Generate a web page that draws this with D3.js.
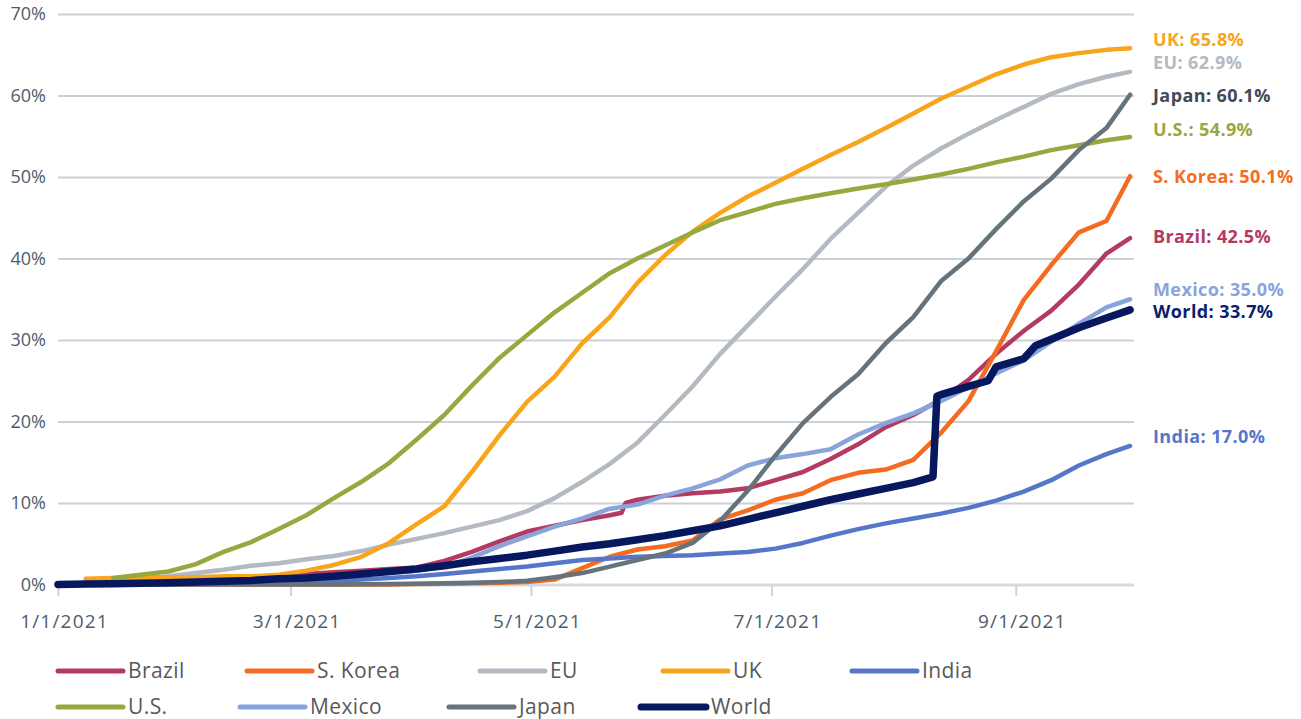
<!DOCTYPE html>
<html>
<head>
<meta charset="utf-8">
<script src="https://cdn.jsdelivr.net/npm/d3@7"></script>
<style>
  html, body { margin: 0; padding: 0; background: #ffffff; }
  svg { display: block; }
</style>
</head>
<body>
<svg id="chart" width="1301" height="719"></svg>
<script>
// Share of population fully vaccinated, 2021 (percent)
const dates = [
  "2021-01-01","2021-01-08","2021-01-15","2021-01-22","2021-01-29","2021-02-05","2021-02-12","2021-02-19",
  "2021-02-26","2021-03-05","2021-03-12","2021-03-19","2021-03-26","2021-04-02","2021-04-09","2021-04-16",
  "2021-04-23","2021-04-30","2021-05-07","2021-05-14","2021-05-21","2021-05-24","2021-05-25","2021-05-28",
  "2021-06-04","2021-06-11","2021-06-18","2021-06-25","2021-07-02","2021-07-09","2021-07-16","2021-07-23",
  "2021-07-30","2021-08-06","2021-08-11","2021-08-12","2021-08-13","2021-08-20","2021-08-25","2021-08-27",
  "2021-09-03","2021-09-06","2021-09-10","2021-09-17","2021-09-24","2021-09-30"
];

const brazil = [null,null,null,0.0,0.1,0.3,0.6,0.9,1.1,1.3,1.5,1.7,1.9,2.1,2.9,4.0,
  5.3,6.5,7.2,7.9,8.5,8.8,10.0,10.4,10.9,11.2,11.4,11.8,12.8,13.8,15.4,17.2,
  19.3,20.8,null,null,22.7,25.1,null,28.3,31.1,null,33.6,36.8,40.6,42.5];

const sKorea = [0,0,0,0,0,0,0,0,0,0,0,0,0,0.05,0.1,0.15,
  0.2,0.3,0.6,2.0,3.4,null,null,4.3,4.7,5.4,8.0,9.1,10.4,11.2,12.8,13.7,
  14.1,15.3,null,null,18.6,22.5,null,28.6,34.9,null,39.2,43.2,44.6,50.1];

const eu = [0.0,0.1,0.3,0.6,1.0,1.4,1.8,2.3,2.6,3.1,3.5,4.1,4.9,5.6,6.3,7.1,
  7.9,9.0,10.6,12.6,14.8,null,null,17.4,20.8,24.3,28.3,31.8,35.3,38.7,42.4,45.6,
  48.8,51.4,null,null,53.5,55.3,null,57.0,58.6,null,60.2,61.4,62.3,62.9];

const uk = [null,0.7,0.8,0.9,0.9,0.9,1.0,1.0,1.2,1.7,2.4,3.4,5.1,7.4,9.6,13.8,
  18.3,22.4,25.5,29.6,32.8,null,null,37.0,40.4,43.3,45.6,47.6,49.3,51.0,52.7,54.3,
  56.0,57.8,null,null,59.6,61.1,null,62.6,63.8,null,64.7,65.2,65.6,65.8];

const india = [null,null,0.0,0.0,0.05,0.1,0.1,0.15,0.2,0.3,0.4,0.6,0.8,1.0,1.3,1.6,
  1.9,2.2,2.6,3.0,3.2,null,null,3.4,3.5,3.6,3.8,4.0,4.4,5.1,6.0,6.8,
  7.5,8.1,null,null,8.7,9.4,null,10.3,11.4,null,12.8,14.6,16.0,17.0];

const us = [null,null,0.8,1.2,1.6,2.5,4.0,5.2,6.8,8.5,10.6,12.6,14.9,17.8,20.8,24.4,
  27.8,30.6,33.4,35.8,38.2,null,null,40.0,41.6,43.2,44.7,45.7,46.7,47.4,48.0,48.6,
  49.1,49.7,null,null,50.3,51.0,null,51.8,52.5,null,53.3,53.9,54.5,54.9];

const mexico = [0.0,0.0,0.05,0.1,0.2,0.3,0.4,0.5,0.6,0.8,1.0,1.2,1.4,1.7,2.2,3.3,
  4.7,5.9,7.1,8.1,9.3,null,null,9.8,10.9,11.8,12.9,14.6,15.5,16.0,16.6,18.4,
  19.8,21.0,null,null,22.5,24.2,null,25.9,27.5,null,29.8,32.0,34.0,35.0];

const japan = [0,0,0,0,0,0,0,0,0,0,0,0.02,0.05,0.1,0.15,0.2,
  0.3,0.45,0.9,1.4,2.2,null,null,3.0,3.8,5.1,7.8,11.5,15.8,19.8,23.0,25.8,
  29.6,32.8,null,null,37.2,40.0,null,43.6,47.0,null,49.8,53.3,56.0,60.1];

const world = [0.0,0.05,0.1,0.15,0.2,0.3,0.4,0.5,0.7,0.8,1.0,1.3,1.6,1.9,2.3,2.8,
  3.2,3.6,4.1,4.6,5.0,null,null,5.5,6.0,6.6,7.2,8.0,8.8,9.6,10.4,11.1,
  11.8,12.5,13.2,23.1,23.3,24.3,25.0,26.7,27.7,29.3,30.1,31.5,32.7,33.7];

const seriesNames = ["Brazil", "S. Korea", "EU", "UK", "India", "U.S.", "Mexico", "Japan", "World"];
const seriesValues = [brazil, sKorea, eu, uk, india, us, mexico, japan, world];

const yTicks = [0, 10, 20, 30, 40, 50, 60, 70];
const xTicks = ["2021-01-01", "2021-03-01", "2021-05-01", "2021-07-01", "2021-09-01"];

// ---- presentation ----
const lineColor = {
  "Brazil": "#b33a62", "S. Korea": "#f36c22", "EU": "#b3bac1", "UK": "#f9a51b",
  "India": "#5677c9", "U.S.": "#97a83f", "Mexico": "#89a4dd", "Japan": "#65737d", "World": "#08185f"
};
const labelColor = Object.assign({}, lineColor, { "Japan": "#3f4b56", "World": "#0c1f6e" });
// vertical nudge of the end labels so they do not collide
const labelNudge = {
  "UK": -9, "EU": -9, "Japan": 1, "U.S.": -7, "S. Korea": 1,
  "Brazil": -1, "Mexico": -10, "World": 2, "India": -9
};
const legendPos = {
  "Brazil": [58, 671], "S. Korea": [247, 671], "EU": [480, 671], "UK": [663, 671], "India": [852, 671],
  "U.S.": [58, 707], "Mexico": [240, 707], "Japan": [449, 707], "World": [641, 707]
};

const parse = d3.utcParse("%Y-%m-%d");
const dateObjs = dates.map(parse);

const left = 58, right = 1134;
const x = d3.scaleUtc()
  .domain([parse("2021-01-01"), parse("2021-10-01")])
  .range([left, right]);
const y = d3.scaleLinear().domain([0, 70]).range([584.5, 14]);

const svg = d3.select("#chart");
const axisFont = "'Open Sans', 'Noto Sans', sans-serif";

// Horizontal grid + y labels
const yAxis = svg.append("g")
  .attr("transform", `translate(${left},0)`)
  .call(d3.axisLeft(y)
    .tickValues(yTicks)
    .tickSize(-(right - left))
    .tickPadding(12)
    .tickFormat(d => d + "%"));
yAxis.select(".domain").remove();
yAxis.selectAll(".tick line")
  .attr("stroke", d => d === 0 ? "#d8d9db" : "#cbd0d6")
  .attr("stroke-width", d => d === 0 ? 3 : 2);
yAxis.selectAll(".tick text")
  .attr("fill", "#4d5c6b")
  .style("font-family", axisFont)
  .style("font-size", "18px");

// Date axis ticks
const xAxis = svg.append("g")
  .attr("transform", `translate(0,${y(0) + 1.5})`)
  .call(d3.axisBottom(x)
    .tickValues(xTicks.map(parse))
    .tickSize(10)
    .tickPadding(19)
    .tickFormat(d3.utcFormat("%-m/%-d/%Y")));
xAxis.select(".domain").remove();
xAxis.selectAll(".tick line").attr("stroke", "#cfd3d8").attr("stroke-width", 2);
xAxis.selectAll(".tick text")
  .attr("dx", 6)
  .attr("fill", "#4d5c6b")
  .style("font-family", axisFont)
  .style("font-size", "19px")
  .style("letter-spacing", "1.2px");

// Series lines
const line = d3.line()
  .x(d => x(d.date))
  .y(d => y(d.value));

const series = seriesNames.map((name, i) => ({
  name,
  points: seriesValues[i]
    .map((v, j) => ({ date: dateObjs[j], value: v }))
    .filter(p => p.value !== null)
}));

svg.append("g")
  .selectAll("path")
  .data(series)
  .join("path")
  .attr("d", d => line(d.points))
  .attr("fill", "none")
  .attr("stroke", d => lineColor[d.name])
  .attr("stroke-width", d => d.name === "World" ? 7.5 : 4.5)
  .attr("stroke-linejoin", "round")
  .attr("stroke-linecap", "round");

// End-of-line value labels
svg.append("g")
  .selectAll("text")
  .data(series)
  .join("text")
  .attr("x", 1153)
  .attr("y", d => y(d.points[d.points.length - 1].value) + labelNudge[d.name])
  .attr("dy", "0.35em")
  .attr("fill", d => labelColor[d.name])
  .style("font-family", axisFont)
  .style("font-weight", 700)
  .style("font-size", "18px")
  .style("letter-spacing", "0.4px")
  .text(d => `${d.name}: ${d.points[d.points.length - 1].value.toFixed(1)}%`);

// Legend
const legend = svg.append("g")
  .selectAll("g")
  .data(seriesNames)
  .join("g")
  .attr("transform", d => `translate(${legendPos[d][0]},${legendPos[d][1]})`);
legend.append("line")
  .attr("x1", 0).attr("x2", 65)
  .attr("y1", 0).attr("y2", 0)
  .attr("stroke", d => lineColor[d])
  .attr("stroke-width", d => d === "World" ? 7 : 5)
  .attr("stroke-linecap", "round");
legend.append("text")
  .attr("x", 70)
  .attr("dy", "0.35em")
  .attr("fill", "#595959")
  .style("font-family", axisFont)
  .style("font-size", "21px")
  .style("letter-spacing", "0.4px")
  .text(d => d);
</script>
</body>
</html>
